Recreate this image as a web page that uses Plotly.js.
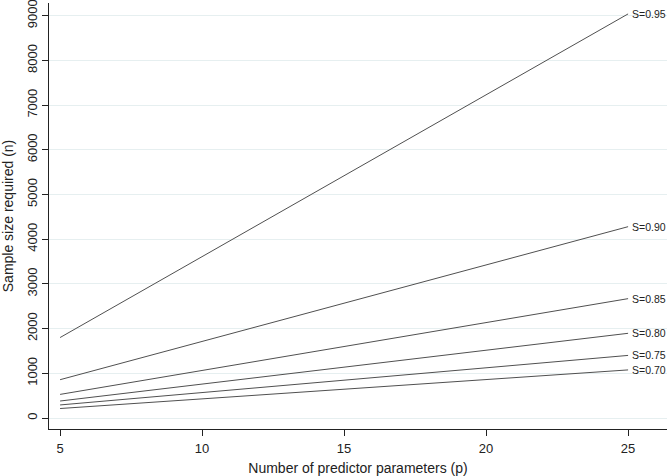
<!DOCTYPE html>
<html>
<head>
<meta charset="utf-8">
<script src="https://cdn.plot.ly/plotly-3.0.1.min.js"></script>
<style>
  body { margin: 0; background: #fff; }
  #chart { width: 669px; height: 476px; }
</style>
</head>
<body>
<div id="chart"></div>
<script>
// number of predictor parameters (line endpoints)
const pValues = [5, 25];

// curve labels and sample sizes
const sLabels = ['S=0.95', 'S=0.90', 'S=0.85', 'S=0.80', 'S=0.75', 'S=0.70'];
const n095 = [1800, 9040];
const n090 = [857, 4280];
const n085 = [528, 2670];
const n080 = [380, 1895];
const n075 = [292, 1400];
const n070 = [212, 1076];

const series = [n095, n090, n085, n080, n075, n070];

const yTicks = [0, 1000, 2000, 3000, 4000, 5000, 6000, 7000, 8000, 9000];
const xTicks = [5, 10, 15, 20, 25];

const lineColor = '#505050';
const textColor = '#222222';

const traces = series.map((vals, i) => ({
  x: pValues,
  y: vals,
  mode: 'lines',
  type: 'scatter',
  line: { color: lineColor, width: 1 },
  name: sLabels[i],
  hoverinfo: 'skip'
}));

// label each line at its right end
const annotations = series.map((vals, i) => ({
  x: pValues[pValues.length - 1],
  y: vals[vals.length - 1],
  xref: 'x',
  yref: 'y',
  text: sLabels[i],
  showarrow: false,
  xanchor: 'left',
  yanchor: 'middle',
  xshift: 2,
  font: { family: 'Liberation Sans, Arial, sans-serif', size: 10.5, color: textColor }
}));

const layout = {
  width: 669,
  height: 476,
  margin: { l: 49, r: 2, t: 3, b: 47 },
  paper_bgcolor: '#ffffff',
  plot_bgcolor: '#ffffff',
  showlegend: false,
  font: { family: 'Liberation Sans, Arial, sans-serif', size: 13, color: textColor },
  xaxis: {
    range: [4.61, 26.37],
    tickvals: xTicks,
    ticktext: xTicks.map(String),
    ticks: 'outside',
    ticklen: 6,
    tickcolor: textColor,
    ticklabelstandoff: 1,
    showline: true,
    linecolor: textColor,
    linewidth: 1,
    showgrid: false,
    zeroline: false,
    tickfont: { size: 13 },
    title: { text: 'Number of predictor parameters (p)', font: { size: 14 }, standoff: 8 }
  },
  yaxis: {
    range: [-246, 9284],
    tickvals: yTicks,
    ticktext: yTicks.map(String),
    tickangle: -90,
    ticks: 'outside',
    ticklen: 6,
    tickcolor: textColor,
    ticklabelstandoff: 0,
    ticklabeloverflow: 'allow',
    showline: true,
    linecolor: textColor,
    linewidth: 1,
    showgrid: true,
    gridcolor: '#e6eff0',
    gridwidth: 1,
    zeroline: false,
    tickfont: { size: 13 },
    title: { text: 'Sample size required (n)', font: { size: 14 }, standoff: 10 }
  },
  annotations: annotations
};

Plotly.newPlot('chart', traces, layout, { staticPlot: true, displayModeBar: false });
</script>
</body>
</html>
